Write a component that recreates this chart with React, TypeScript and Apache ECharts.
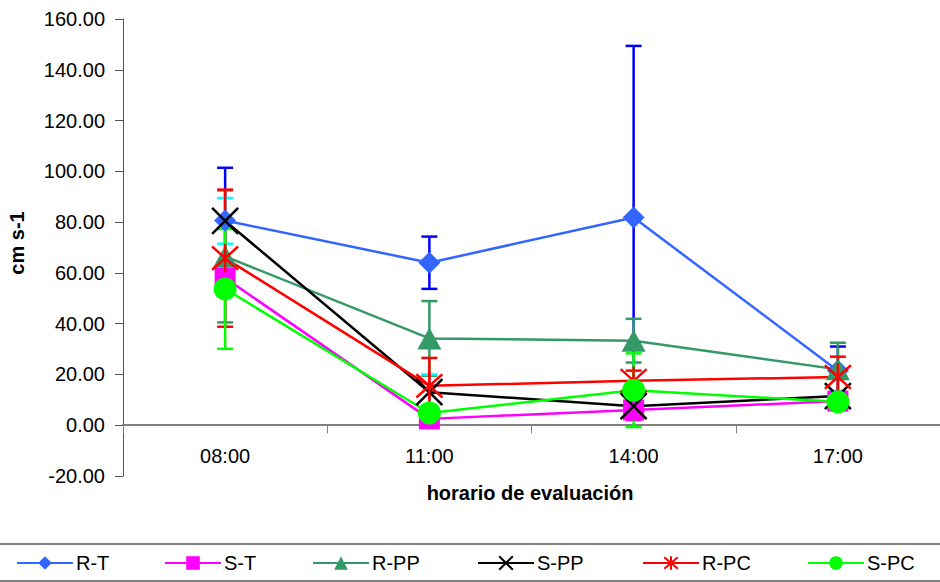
import React, { useEffect, useRef } from "react";
import * as echarts from "echarts";

// ---- data ----
const categories = ["08:00", "11:00", "14:00", "17:00"];
const seriesNames = ["R-T", "S-T", "R-PP", "S-PP", "R-PC", "S-PC"];

const rT = [80.6, 64.0, 81.8, 21.5];
const rTErr = [20.8, 10.3, 67.6, 9.5];
const sT = [58.0, 2.5, 6.0, 9.5];
const sTErr = [5.0, 2.0, 4.0, 3.0];
const rPP = [66.5, 34.2, 33.3, 22.0];
const rPPErr = [26.0, 14.7, 8.6, 10.5];
const sPP = [80.5, 13.0, 7.5, 11.5];
const sPPErr = [9.0, 7.0, 2.0, 2.0];
const rPC = [65.8, 15.5, 17.5, 19.0];
const rPCErr = [27.0, 11.0, 4.0, 8.0];
const sPC = [53.7, 4.8, 13.8, 9.2];
const sPCErr = [23.6, 3.0, 14.5, 3.0];

const yTicks = { min: -20, max: 160, interval: 20 };

// ---- styles ----
const FONT = '"Liberation Sans", Arial, sans-serif';
const lineColors = ["#3366FF", "#FF00FF", "#339966", "#000000", "#FF0000", "#00FF00"];
const errColors = ["#0000FF", "#FF00FF", "#339966", "#00FFFF", "#FF0000", "#00FF00"];
const legendLefts = [16, 164, 312, 477, 642, 807];

const X_PATH = "path://M0,0L10,10M10,0L0,10";
const AST_PATH = "path://M0,0L10,10M10,0L0,10M5,-1L5,11";

const symbolDefs: any[] = [
  { symbol: "diamond", symbolSize: [22, 22], stroke: false },
  { symbol: "rect", symbolSize: [21, 21], stroke: false },
  { symbol: "triangle", symbolSize: [24, 22], stroke: false },
  { symbol: X_PATH, symbolSize: [26, 26], stroke: true },
  { symbol: AST_PATH, symbolSize: [26, 28], stroke: true },
  { symbol: "circle", symbolSize: [23, 23], stroke: false },
];

const values = [rT, sT, rPP, sPP, rPC, sPC];
const errs = [rTErr, sTErr, rPPErr, sPPErr, rPCErr, sPCErr];

export default function App() {
  const ref = useRef<HTMLDivElement>(null);

  useEffect(() => {
    if (!ref.current) return;
    const chart = echarts.init(ref.current, null, { renderer: "svg" });

    const errorSeries = seriesNames.map((name, i) => ({
      type: "custom",
      name: name + " error",
      z: 1,
      data: categories.map((_, j) => [j, values[i][j] - errs[i][j], values[i][j] + errs[i][j]]),
      encode: { x: 0, y: [1, 2] },
      renderItem: (params: any, api: any) => {
        const x = api.value(0);
        const lo = api.coord([x, api.value(1)]);
        const hi = api.coord([x, api.value(2)]);
        const half = 8;
        const st = { stroke: errColors[i], lineWidth: 2.5 };
        return {
          type: "group",
          children: [
            { type: "line", shape: { x1: lo[0], y1: lo[1], x2: hi[0], y2: hi[1] }, style: st },
            { type: "line", shape: { x1: hi[0] - half, y1: hi[1], x2: hi[0] + half, y2: hi[1] }, style: st },
            { type: "line", shape: { x1: lo[0] - half, y1: lo[1], x2: lo[0] + half, y2: lo[1] }, style: st },
          ],
        };
      },
      silent: true,
    }));

    const lineSeries = seriesNames.map((name, i) => {
      const d = symbolDefs[i];
      return {
        type: "line",
        name,
        z: 3,
        data: values[i],
        symbol: d.symbol,
        symbolSize: d.symbolSize,
        showAllSymbol: true,
        lineStyle: { color: lineColors[i], width: 2.5 },
        itemStyle: d.stroke
          ? { color: lineColors[i], borderColor: lineColors[i], borderWidth: 2.5 }
          : { color: lineColors[i], borderWidth: 0 },
        emphasis: { disabled: true },
      };
    });

    const legends = seriesNames.map((name, i) => ({
      data: [name],
      left: legendLefts[i],
      top: 553,
      padding: 0,
      itemWidth: 56,
      itemHeight: 17,
      itemGap: 0,
      selectedMode: false,
      textStyle: { fontFamily: FONT, fontSize: 20, color: "#000", padding: [0, 0, 0, -2] },
    }));

    chart.setOption({
      animation: false,
      backgroundColor: "#fff",
      grid: { left: 123, top: 19, width: 824, height: 457, containLabel: false },
      legend: legends,
      xAxis: {
        type: "category",
        data: categories,
        boundaryGap: true,
        axisLine: { onZero: true, lineStyle: { color: "#808080", width: 2 } },
        axisTick: { show: true, length: 8, lineStyle: { color: "#808080", width: 1 } },
        axisLabel: { fontFamily: FONT, fontSize: 20, color: "#000", margin: -30 },
        splitLine: { show: false },
      },
      yAxis: {
        type: "value",
        min: yTicks.min,
        max: yTicks.max,
        interval: yTicks.interval,
        axisLine: { show: true, lineStyle: { color: "#555", width: 1 } },
        axisTick: { show: true, length: 8, lineStyle: { color: "#555", width: 1 } },
        axisLabel: {
          fontFamily: FONT,
          fontSize: 20,
          color: "#000",
          margin: 18,
          formatter: (v: number) => v.toFixed(2),
        },
        splitLine: { show: false },
      },
      graphic: [
        {
          type: "text",
          x: 530,
          y: 493,
          silent: true,
          style: {
            text: "horario de evaluación",
            font: `bold 20px ${FONT}`,
            fill: "#000",
            textAlign: "center",
            verticalAlign: "middle",
          },
        },
        {
          type: "text",
          x: 17,
          y: 243,
          rotation: Math.PI / 2,
          silent: true,
          style: {
            text: "cm s-1",
            font: `bold 20px ${FONT}`,
            fill: "#000",
            textAlign: "center",
            verticalAlign: "middle",
          },
        },
        {
          type: "rect",
          silent: true,
          shape: { x: -2, y: 544, width: 944, height: 37 },
          style: { fill: "none", stroke: "#808080", lineWidth: 2 },
          z: -1,
        },
      ],
      series: [...errorSeries, ...lineSeries],
    });

    return () => chart.dispose();
  }, []);

  return (
    <div
      ref={ref}
      style={{ position: "fixed", left: 0, top: 0, width: 940, height: 582, background: "#fff" }}
    />
  );
}
